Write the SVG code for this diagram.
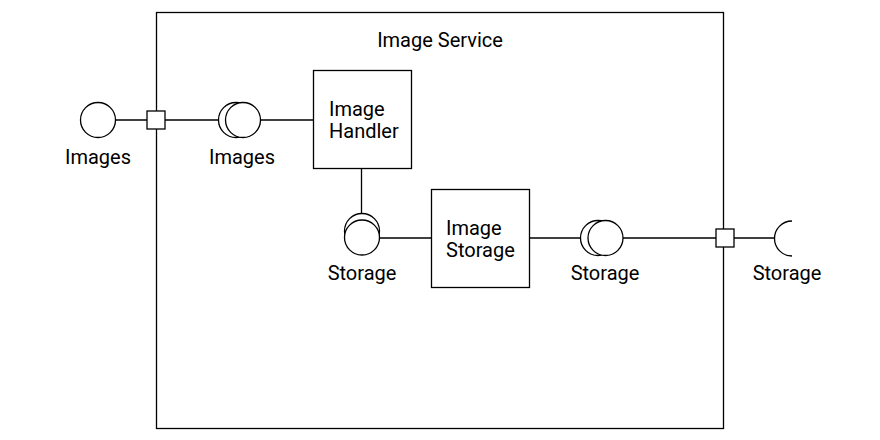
<svg xmlns="http://www.w3.org/2000/svg" width="880" height="440" viewBox="0 0 880 440">
<style>
.s{fill:#fff;stroke:#000;stroke-width:1.3}
.n{fill:none;stroke:#000;stroke-width:1.3}
text{font-family:Roboto,"Liberation Sans",sans-serif;font-size:20px;fill:#000}
.c{text-anchor:middle}
</style>
<rect width="880" height="440" fill="#fff"/>
<g id="image-service">
<rect class="s" x="156.5" y="12.5" width="567" height="416"/>
<text class="c" x="440" y="47">Image Service</text>
</g>
<g id="connectors">
<line class="n" x1="116" y1="120" x2="218" y2="120"/>
<line class="n" x1="261" y1="120" x2="313" y2="120"/>
<line class="n" x1="361.5" y1="168" x2="361.5" y2="213"/>
<line class="n" x1="380" y1="238" x2="431" y2="238"/>
<line class="n" x1="530" y1="238" x2="580" y2="238"/>
<line class="n" x1="623" y1="238" x2="774" y2="238"/>
</g>
<g id="port-left">
<rect class="s" x="147" y="111" width="18" height="18"/>
</g>
<g id="port-right">
<rect class="s" x="716" y="229" width="18" height="18"/>
</g>
<g id="images-ext">
<circle class="s" cx="98" cy="120" r="17.5"/>
<text class="c" x="98" y="164">Images</text>
</g>
<g id="images-int">
<circle class="s" cx="236" cy="120" r="17.5"/>
<circle class="s" cx="243" cy="120" r="17.5"/>
<text class="c" x="242" y="164">Images</text>
</g>
<g id="image-handler">
<rect class="s" x="313.5" y="70.5" width="98" height="98"/>
<text x="329" y="116">Image</text>
<text x="329" y="138">Handler</text>
</g>
<g id="storage-int-1">
<circle class="s" cx="362" cy="231" r="17.5"/>
<circle class="s" cx="362" cy="237.5" r="17.5"/>
<text class="c" x="362" y="280">Storage</text>
</g>
<g id="image-storage">
<rect class="s" x="431.5" y="189.5" width="98" height="98"/>
<text x="446" y="235">Image</text>
<text x="446" y="257">Storage</text>
</g>
<g id="storage-int-2">
<circle class="s" cx="598" cy="238" r="17.5"/>
<circle class="s" cx="605.5" cy="238" r="17.5"/>
<text class="c" x="605" y="280">Storage</text>
</g>
<g id="storage-ext">
<path class="n" d="M792 221 A17.5 17.5 0 0 0 792 256"/>
<text class="c" x="787" y="280">Storage</text>
</g>
</svg>
